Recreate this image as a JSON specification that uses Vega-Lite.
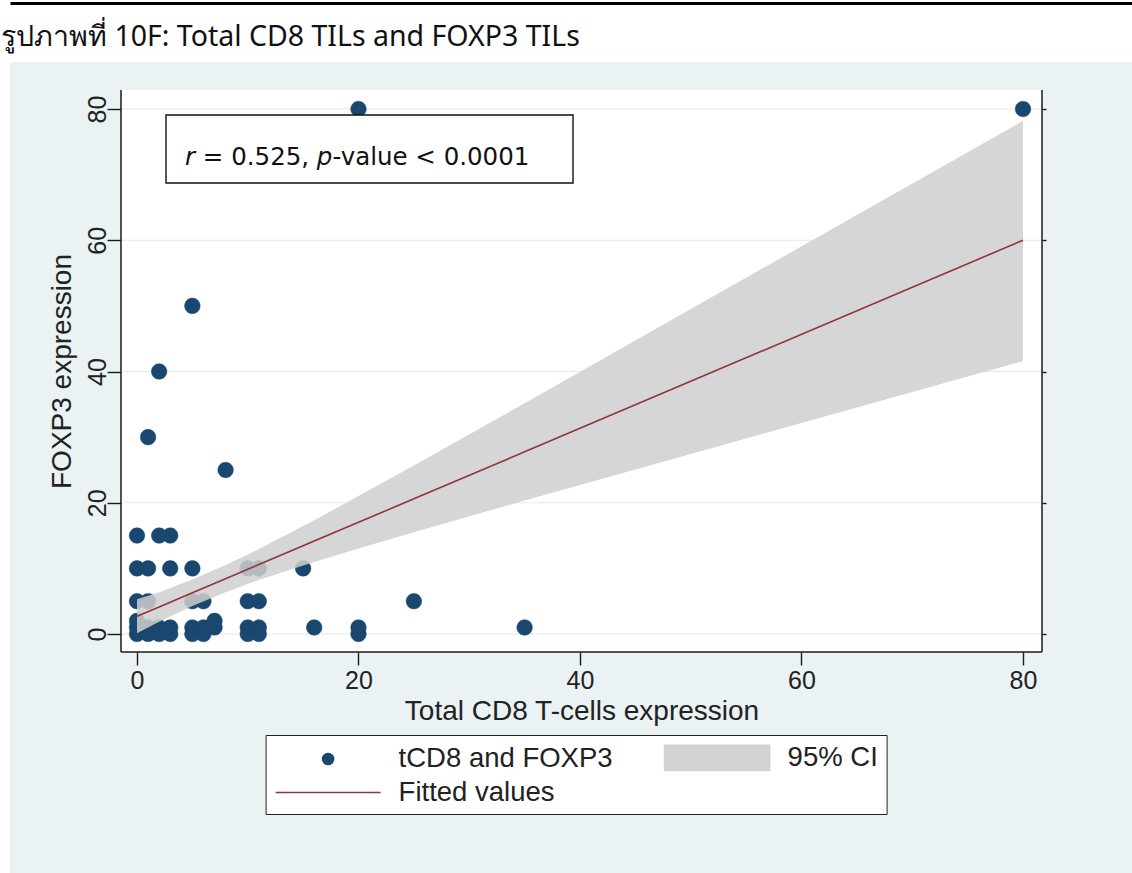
{
  "$schema": "https://vega.github.io/schema/vega-lite/v6.json",
  "width": 1122,
  "height": 811,
  "autosize": {"type": "none"},
  "padding": {"left": 10, "top": 62, "right": 0, "bottom": 0},
  "background": "#ffffff",
  "title": {
    "text": "รูปภาพที่ 10F: Total CD8 TILs and FOXP3 TILs",
    "anchor": "start",
    "frame": "group",
    "orient": "top",
    "font": "Noto Sans",
    "fontSize": 28.5,
    "fontWeight": "normal",
    "color": "#111111",
    "baseline": "alphabetic",
    "offset": 0,
    "dx": -9,
    "dy": 71
  },
  "datasets": {
    "pts": [
      {"cd8": 0, "foxp3": 0}, {"cd8": 0, "foxp3": 1}, {"cd8": 0, "foxp3": 2}, {"cd8": 0, "foxp3": 5}, {"cd8": 0, "foxp3": 10}, {"cd8": 0, "foxp3": 15},
      {"cd8": 1, "foxp3": 0}, {"cd8": 1, "foxp3": 1}, {"cd8": 1, "foxp3": 5}, {"cd8": 1, "foxp3": 10}, {"cd8": 1, "foxp3": 30},
      {"cd8": 2, "foxp3": 0}, {"cd8": 2, "foxp3": 1}, {"cd8": 2, "foxp3": 15}, {"cd8": 2, "foxp3": 40},
      {"cd8": 3, "foxp3": 0}, {"cd8": 3, "foxp3": 1}, {"cd8": 3, "foxp3": 10}, {"cd8": 3, "foxp3": 15},
      {"cd8": 5, "foxp3": 0}, {"cd8": 5, "foxp3": 1}, {"cd8": 5, "foxp3": 5}, {"cd8": 5, "foxp3": 10}, {"cd8": 5, "foxp3": 50},
      {"cd8": 6, "foxp3": 0}, {"cd8": 6, "foxp3": 1}, {"cd8": 6, "foxp3": 5},
      {"cd8": 7, "foxp3": 1}, {"cd8": 7, "foxp3": 2},
      {"cd8": 8, "foxp3": 25},
      {"cd8": 10, "foxp3": 0}, {"cd8": 10, "foxp3": 1}, {"cd8": 10, "foxp3": 5}, {"cd8": 10, "foxp3": 10},
      {"cd8": 11, "foxp3": 0}, {"cd8": 11, "foxp3": 1}, {"cd8": 11, "foxp3": 5}, {"cd8": 11, "foxp3": 10},
      {"cd8": 15, "foxp3": 10},
      {"cd8": 16, "foxp3": 1},
      {"cd8": 20, "foxp3": 0}, {"cd8": 20, "foxp3": 1}, {"cd8": 20, "foxp3": 80},
      {"cd8": 25, "foxp3": 5},
      {"cd8": 35, "foxp3": 1},
      {"cd8": 80, "foxp3": 80}
    ],
    "fit": [
      {"cd8": 0, "fit": 2.7, "lo": 0.1, "hi": 5.3},
      {"cd8": 2, "fit": 4.13, "lo": 1.88, "hi": 6.38},
      {"cd8": 5, "fit": 6.28, "lo": 4.25, "hi": 8.31},
      {"cd8": 8, "fit": 8.43, "lo": 6.35, "hi": 10.51},
      {"cd8": 10, "fit": 9.86, "lo": 7.61, "hi": 12.11},
      {"cd8": 11, "fit": 10.58, "lo": 8.22, "hi": 12.94},
      {"cd8": 15, "fit": 13.44, "lo": 10.44, "hi": 16.44},
      {"cd8": 16, "fit": 14.16, "lo": 10.98, "hi": 17.34},
      {"cd8": 20, "fit": 17.02, "lo": 13.03, "hi": 21.01},
      {"cd8": 25, "fit": 20.6, "lo": 15.51, "hi": 25.69},
      {"cd8": 35, "fit": 27.76, "lo": 20.35, "hi": 35.17},
      {"cd8": 80, "fit": 60.0, "lo": 41.6, "hi": 78.2}
    ],
    "grid": [{"tick": 0}, {"tick": 20}, {"tick": 40}, {"tick": 60}, {"tick": 80}],
    "one": [{}]
  },
  "resolve": {"axis": {"x": "independent", "y": "independent"}},
  "layer": [
    {
      "data": {"name": "one"},
      "mark": {"type": "rect", "fill": "#ffffff", "stroke": null},
      "encoding": {
        "x": {"datum": -1.4447, "type": "quantitative", "axis": null},
        "x2": {"datum": 81.716},
        "y": {"datum": -2.743, "type": "quantitative", "axis": null},
        "y2": {"datum": 82.895}
      }
    },
    {
      "data": {"name": "grid"},
      "mark": {"type": "rule", "stroke": "#e3eaec", "strokeWidth": 1.2},
      "encoding": {
        "y": {
          "field": "tick", "type": "quantitative",
          "axis": {"orient": "right", "offset": -90, "values": [0, 20, 40, 60, 80], "domain": false, "grid": false, "labels": false, "ticks": true, "tickSize": 4, "tickColor": "#1a1a1a", "tickWidth": 1.4, "title": null}
        },
        "x": {"datum": -1.4447, "type": "quantitative", "axis": null},
        "x2": {"datum": 81.716}
      }
    },
    {
      "data": {"name": "pts"},
      "mark": {"type": "point", "filled": true, "size": 1448, "opacity": 1, "strokeWidth": 0.5},
      "encoding": {
        "x": {
          "field": "cd8", "type": "quantitative",
          "scale": {"domain": [-11.467, 89.842], "nice": false, "zero": false},
          "axis": {"orient": "bottom", "offset": -221, "values": [0, 20, 40, 60, 80], "format": "d", "domain": false, "grid": false, "tickSize": 13, "tickColor": "#1a1a1a", "tickWidth": 1.4, "labelFont": "Liberation Sans", "labelFontSize": 25, "labelColor": "#222222", "labelPadding": 3, "labelFlush": false, "labelOverlap": false, "title": "Total CD8 T-cells expression", "titleFont": "Liberation Sans", "titleFontSize": 28, "titleFontWeight": "normal", "titleColor": "#222222", "titlePadding": 4, "titleX": 571.5, "titleAlign": "center"}
        },
        "y": {
          "field": "foxp3", "type": "quantitative",
          "scale": {"domain": [-36.419, 87.162], "nice": false, "zero": false},
          "axis": {"orient": "left", "offset": -111, "values": [0, 20, 40, 60, 80], "format": "d", "domain": false, "grid": false, "tickSize": 14, "tickColor": "#1a1a1a", "tickWidth": 1.4, "labelFont": "Liberation Sans", "labelFontSize": 25, "labelColor": "#222222", "labelAngle": 270, "labelAlign": "center", "labelBaseline": "alphabetic", "labelPadding": 2, "labelFlush": false, "labelOverlap": false, "title": "FOXP3 expression", "titleFont": "Liberation Sans", "titleFontSize": 28, "titleFontWeight": "normal", "titleColor": "#222222", "titlePadding": 9, "titleY": 309, "titleAlign": "center"}
        },
        "fill": {
          "datum": "tCD8 and FOXP3", "type": "nominal",
          "scale": {"domain": ["tCD8 and FOXP3", "Fitted values", "95% CI"], "range": ["#1a476f", "#90353b", "#d2d2d2"]},
          "legend": {"title": null}
        },
        "stroke": {
          "datum": "tCD8 and FOXP3", "type": "nominal",
          "scale": {"domain": ["tCD8 and FOXP3", "Fitted values", "95% CI"], "range": ["#1a476f", "#90353b", "#d2d2d2"]},
          "legend": {"title": null}
        },
        "shape": {
          "datum": "tCD8 and FOXP3", "type": "nominal",
          "scale": {"domain": ["tCD8 and FOXP3", "Fitted values", "95% CI"], "range": ["M0.4074,0A0.4074,0.4074,0,1,1,-0.4074,0A0.4074,0.4074,0,1,1,0.4074,0Z", "M-3.889,0H3.889", "M-3.889,-0.926H3.889V0.926H-3.889Z"]},
          "legend": {"title": null}
        }
      }
    },
    {
      "data": {"name": "fit"},
      "mark": {"type": "area", "fill": "#cfcfcf", "opacity": 0.85},
      "encoding": {
        "x": {
          "field": "cd8", "type": "quantitative",
          "axis": {"orient": "top", "offset": 59, "domain": true, "domainColor": "#000000", "domainWidth": 3, "ticks": false, "labels": false, "grid": false, "title": null}
        },
        "y": {"field": "lo", "type": "quantitative", "axis": null},
        "y2": {"field": "hi"}
      }
    },
    {
      "data": {"name": "fit"},
      "mark": {"type": "line", "stroke": "#90353b", "strokeWidth": 1.6},
      "encoding": {
        "x": {"field": "cd8", "type": "quantitative", "axis": null},
        "y": {"field": "fit", "type": "quantitative", "axis": null}
      }
    },
    {
      "data": {"name": "one"},
      "mark": {"type": "rule", "stroke": "#1a1a1a", "strokeWidth": 1.5},
      "encoding": {
        "x": {"datum": -1.4447, "type": "quantitative", "axis": null},
        "y": {"datum": -2.743, "type": "quantitative", "axis": null},
        "y2": {"datum": 82.895}
      }
    },
    {
      "data": {"name": "one"},
      "mark": {"type": "rule", "stroke": "#1a1a1a", "strokeWidth": 1.5},
      "encoding": {
        "x": {"datum": 81.716, "type": "quantitative", "axis": null},
        "y": {"datum": -2.743, "type": "quantitative", "axis": null},
        "y2": {"datum": 82.895}
      }
    },
    {
      "data": {"name": "one"},
      "mark": {"type": "rule", "stroke": "#1a1a1a", "strokeWidth": 1.5},
      "encoding": {
        "y": {"datum": -2.743, "type": "quantitative", "axis": null},
        "x": {"datum": -1.4447, "type": "quantitative", "axis": null},
        "x2": {"datum": 81.716}
      }
    },
    {
      "data": {"name": "one"},
      "mark": {"type": "rect", "fill": "#ffffff", "stroke": "#111111", "strokeWidth": 1.4},
      "encoding": {
        "x": {"datum": 2.62, "type": "quantitative", "axis": null},
        "x2": {"datum": 39.37},
        "y": {"datum": 68.72, "type": "quantitative", "axis": null},
        "y2": {"datum": 79.09}
      }
    },
    {
      "data": {"name": "one"},
      "mark": {"type": "text", "text": "r", "font": "DejaVu Sans", "fontSize": 24.5, "fontStyle": "italic", "align": "left", "baseline": "alphabetic", "color": "#111111", "dx": 0},
      "encoding": {
        "x": {"datum": 4.33, "type": "quantitative", "axis": null},
        "y": {"datum": 71.5, "type": "quantitative", "axis": null}
      }
    },
    {
      "data": {"name": "one"},
      "mark": {"type": "text", "text": "= 0.525,", "font": "DejaVu Sans", "fontSize": 24.5, "align": "left", "baseline": "alphabetic", "color": "#111111", "dx": 17.9},
      "encoding": {
        "x": {"datum": 4.33, "type": "quantitative", "axis": null},
        "y": {"datum": 71.5, "type": "quantitative", "axis": null}
      }
    },
    {
      "data": {"name": "one"},
      "mark": {"type": "text", "text": "p", "font": "DejaVu Sans", "fontSize": 24.5, "fontStyle": "italic", "align": "left", "baseline": "alphabetic", "color": "#111111", "dx": 131.9},
      "encoding": {
        "x": {"datum": 4.33, "type": "quantitative", "axis": null},
        "y": {"datum": 71.5, "type": "quantitative", "axis": null}
      }
    },
    {
      "data": {"name": "one"},
      "mark": {"type": "text", "text": "-value < 0.0001", "font": "DejaVu Sans", "fontSize": 24.5, "align": "left", "baseline": "alphabetic", "color": "#111111", "dx": 147.5},
      "encoding": {
        "x": {"datum": 4.33, "type": "quantitative", "axis": null},
        "y": {"datum": 71.5, "type": "quantitative", "axis": null}
      }
    }
  ],
  "config": {
    "view": {"fill": "#eaf2f3", "stroke": null},
    "legend": {
      "orient": "none",
      "legendX": 255.6,
      "legendY": 673,
      "columns": 2,
      "fillColor": "#ffffff",
      "strokeColor": "#222222",
      "padding": 8,
      "symbolSize": 729,
      "symbolStrokeWidth": 1.6,
      "symbolOffset": 40,
      "labelFont": "Liberation Sans",
      "labelFontSize": 27.5,
      "labelColor": "#222222",
      "labelOffset": 56,
      "labelLimit": 400,
      "columnPadding": 48,
      "rowPadding": 4
    }
  }
}
